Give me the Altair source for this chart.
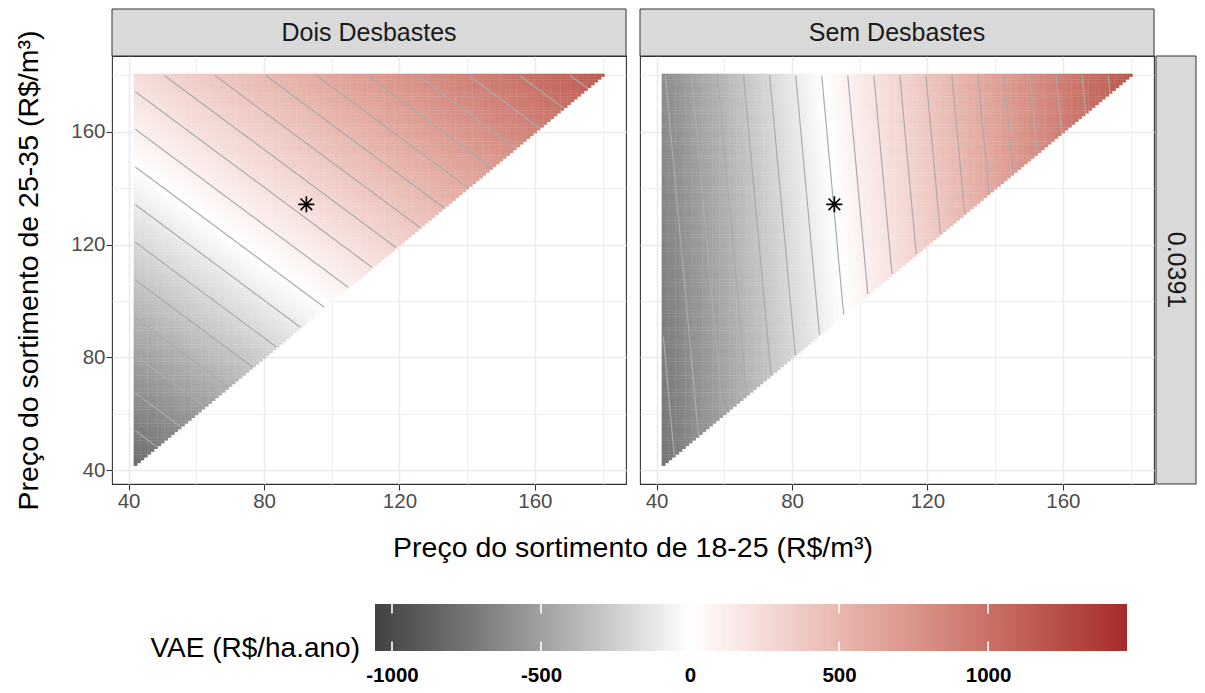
import numpy as np
import pandas as pd
import altair as alt

alt.data_transformers.disable_max_rows()

# ---------------- data ----------------
panels = ["Dois Desbastes", "Sem Desbastes"]
row_label = "0.0391"
price_min, price_max = 42, 180
# VAE (R$/ha.ano) read at the three corners of the price triangle:
# (42,42), (42,180), (180,180)
vae_dois = [-790, 243, 1164]
vae_sem = [-745, -608, 1186]
vae_corners = [vae_dois, vae_sem]
optimum_x = [92.5]
optimum_y = [134.3]
contour_step = 100
legend_limits = [-1057, 1466]
legend_ticks = [-1000, -500, 0, 500, 1000]
axis_ticks = [40, 60, 80, 100, 120, 140, 160, 180]
axis_domain = [35.1, 186.9]

FONT = "Liberation Sans"
W, H, GAP = 514, 428, 14
BAR_LEFT, BAR_LEN, BAR_THICK = 263, 752, 47
BAR_GAP = 120


def plane(vals):
    span = price_max - price_min
    a = (vals[2] - vals[1]) / span
    b = (vals[1] - vals[0]) / span
    return vals[0], a, b


def build_grid(vals):
    c, a, b = plane(vals)
    rows = []
    for x in range(price_min, price_max + 1):
        for y in range(x, price_max + 1):
            v = c + a * (x - price_min) + b * (y - price_min)
            rows.append((x - 0.5, x + 0.62, y - 0.5, y + 0.62, round(v, 1)))
    return pd.DataFrame(rows, columns=["x1", "x2", "y1", "y2", "v"])


def build_contours(vals):
    c, a, b = plane(vals)
    lo, hi = min(vals), max(vals)
    levels = np.arange(np.ceil(lo / contour_step) * contour_step, hi, contour_step)
    rows = []
    for L in levels:
        pts = []
        if b != 0:
            y = price_min + (L - c) / b
            if price_min <= y <= price_max:
                pts.append((price_min, y))
        if a != 0:
            x = price_min + (L - c - b * (price_max - price_min)) / a
            if price_min <= x <= price_max:
                pts.append((x, price_max))
        if a + b != 0:
            t = price_min + (L - c) / (a + b)
            if price_min <= t <= price_max:
                pts.append((t, t))
        uniq = []
        for p in pts:
            if all(abs(p[0] - q[0]) + abs(p[1] - q[1]) > 1e-6 for q in uniq):
                uniq.append(p)
        if len(uniq) >= 2:
            for k, (px, py) in enumerate(uniq[:2]):
                rows.append({"level": float(L), "x": px, "y": py, "o": k})
    return pd.DataFrame(rows)


color_scale = alt.Scale(domain=[legend_limits[0], 0, legend_limits[1]],
                        range=["#424242", "#ffffff", "#A52A2A"],
                        interpolate="lab")

major = "datum.value % 40 === 0"
x_scale = alt.Scale(domain=axis_domain, nice=False, zero=False)
y_scale = alt.Scale(domain=axis_domain, nice=False, zero=False)


def make_axis(show_labels=True, title=None):
    return alt.Axis(
        values=axis_ticks,
        labelExpr=f"{major} ? datum.label : ''",
        gridWidth={"condition": {"test": major, "value": 1.6}, "value": 0.8},
        tickColor={"condition": {"test": major, "value": "#333333"}, "value": "transparent"},
        domain=False, labels=show_labels, ticks=show_labels,
        title=title,
    )


def panel_chart(i):
    name = panels[i]
    grid = build_grid(vae_corners[i])
    cont = build_contours(vae_corners[i])
    yaxis = make_axis(True, "Preço do sortimento de 25-35 (R$/m³)") if i == 0 else make_axis(False)

    raster = alt.Chart(grid).mark_rect(strokeWidth=0).encode(
        x=alt.X("x1:Q", scale=x_scale, axis=make_axis(True)),
        x2="x2:Q",
        y=alt.Y("y1:Q", scale=y_scale, axis=yaxis),
        y2="y2:Q",
        color=alt.Color("v:Q", scale=color_scale, legend=None),
    )
    lines = alt.Chart(cont).mark_line(color="#ababab", strokeWidth=1.2).encode(
        x=alt.X("x:Q", scale=x_scale),
        y=alt.Y("y:Q", scale=y_scale),
        detail="level:N",
        order="o:Q",
    )
    star = alt.Chart(pd.DataFrame({"x": optimum_x, "y": optimum_y})).mark_point(
        shape="M-1,0L1,0M0,-1L0,1M-0.72,-0.72L0.72,0.72M-0.72,0.72L0.72,-0.72",
        filled=False, stroke="#000000", strokeWidth=1.7, size=260, opacity=1,
    ).encode(x=alt.X("x:Q", scale=x_scale), y=alt.Y("y:Q", scale=y_scale))

    strip_data = alt.Data(values=[{"label": name}])
    strip = alt.Chart(strip_data).mark_rect(
        fill="#d9d9d9", stroke="#333333", strokeWidth=1, clip=False
    ).encode(x=alt.value(0), x2=alt.value(W), y=alt.value(-47), y2=alt.value(0))
    strip_text = alt.Chart(strip_data).mark_text(
        font=FONT, fontSize=25, color="#1a1a1a", baseline="middle", align="center"
    ).encode(text="label:N", x=alt.value(W / 2), y=alt.value(-23))

    layers = [raster, lines, star, strip, strip_text]

    if i == 0:
        xt = alt.Chart(alt.Data(values=[{"t": "Preço do sortimento de 18-25 (R$/m³)"}])).mark_text(
            font=FONT, fontSize=28.5, color="#000000", baseline="middle", align="center"
        ).encode(text="t:N", x=alt.value(W + GAP / 2), y=alt.value(H + 64))
        layers.append(xt)
    else:
        rdata = alt.Data(values=[{"label": row_label}])
        rstrip = alt.Chart(rdata).mark_rect(
            fill="#d9d9d9", stroke="#333333", strokeWidth=1, clip=False
        ).encode(x=alt.value(W + 2), x2=alt.value(W + 42), y=alt.value(0), y2=alt.value(H))
        rtext = alt.Chart(rdata).mark_text(
            font=FONT, fontSize=25, color="#1a1a1a", baseline="middle", align="center", angle=90
        ).encode(text="label:N", x=alt.value(W + 22), y=alt.value(H / 2))
        layers += [rstrip, rtext]

    return alt.layer(*layers).properties(width=W, height=H)


# ---------------- colour bar (legend) drawn as its own view ----------------
lo, hi = legend_limits
n_stops = 300
edges = np.linspace(lo, hi, n_stops + 1)
step = edges[1] - edges[0]
bar = pd.DataFrame({"v0": edges[:-1],
                    "v1": np.minimum(edges[1:] + step * 0.6, hi)})
bar["v"] = edges[:-1] + step / 2
bar_scale = alt.Scale(domain=[lo, hi], range=[BAR_LEFT, BAR_LEFT + BAR_LEN], nice=False, zero=False)
bar_axis = alt.Axis(values=legend_ticks, labelExpr="datum.value + ''", domain=False, ticks=False,
                    grid=False, labelFontWeight="bold", labelColor="#000000", labelFontSize=20.5,
                    labelPadding=14, title=None, orient="bottom")
bar_rects = alt.Chart(bar).mark_rect(strokeWidth=0).encode(
    x=alt.X("v0:Q", scale=bar_scale, axis=bar_axis),
    x2=alt.X2("v1:Q"),
    y=alt.value(0), y2=alt.value(BAR_THICK),
    color=alt.Color("v:Q", scale=color_scale, legend=None),
)
tick_df = pd.DataFrame({"v": legend_ticks})
ticks_top = alt.Chart(tick_df).mark_rule(color="#ffffff", strokeWidth=1.6).encode(
    x=alt.X("v:Q", scale=bar_scale), y=alt.value(0), y2=alt.value(BAR_THICK / 5))
ticks_bot = alt.Chart(tick_df).mark_rule(color="#ffffff", strokeWidth=1.6).encode(
    x=alt.X("v:Q", scale=bar_scale), y=alt.value(BAR_THICK * 4 / 5), y2=alt.value(BAR_THICK))
bar_title = alt.Chart(alt.Data(values=[{"t": "VAE (R$/ha.ano)"}])).mark_text(
    font=FONT, fontSize=28, color="#000000", align="right", baseline="middle"
).encode(text="t:N", x=alt.value(BAR_LEFT - 15), y=alt.value(45))
legend_view = alt.layer(bar_rects, ticks_top, ticks_bot, bar_title).properties(
    width=W * 2 + GAP, height=BAR_THICK,
    view=alt.ViewBackground(stroke="transparent"),
)

panels_row = alt.hconcat(panel_chart(0), panel_chart(1), spacing=GAP, bounds="flush")
chart = alt.vconcat(panels_row, legend_view, spacing=H + BAR_GAP, bounds="flush").configure(
    font=FONT,
    padding={"left": 14, "top": 7, "right": 5, "bottom": 5},
    background="#ffffff",
).configure_view(
    stroke="#333333", strokeWidth=1.1
).configure_axis(
    labelFont=FONT, labelFontSize=20.5, labelColor="#4d4d4d", labelPadding=1,
    tickSize=6, tickWidth=1.1, gridColor="#ebebeb",
    titleFont=FONT, titleFontSize=28.5, titleFontWeight="normal", titleColor="#000000",
    titlePadding=27,
)

chart.save("out.html", embed_options={"renderer": "svg", "actions": False})
